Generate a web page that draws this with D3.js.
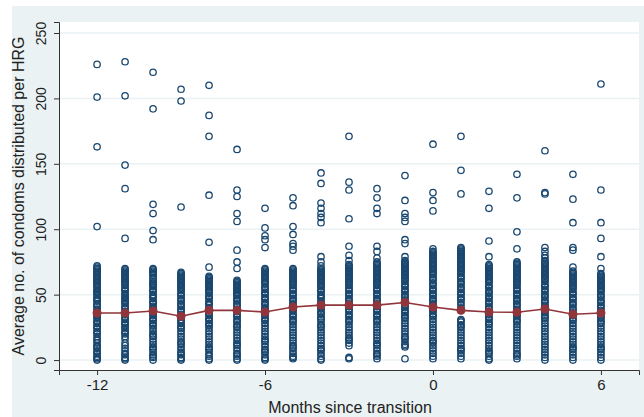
<!DOCTYPE html>
<html>
<head>
<meta charset="utf-8">
<script src="https://cdn.jsdelivr.net/npm/d3@7"></script>
<style>
  body { margin: 0; background: #fff; }
  svg { display: block; font-family: "Liberation Sans", Arial, sans-serif; }
</style>
</head>
<body>
<div id="chart"></div>
<script>
// month values on the x axis
const months = [-12, -11, -10, -9, -8, -7, -6, -5, -4, -3, -2, -1, 0, 1, 2, 3, 4, 5, 6];

// mean per month (red connected line)
const means = [36, 36, 37.5, 33.5, 38, 38, 36.7, 40.5, 42, 42, 42, 44, 40.5, 38, 36.7, 36.5, 39, 35, 36];

// per-HRG observations, one array per month
const obsM12 = [226, 201, 163, 102, 72, 71, 70, 69, 68, 67, 66, 65, 64, 63, 62, 61, 60, 59, 58, 57, 56, 54, 53, 52, 51, 50, 48, 47, 46, 45, 43, 42, 41, 39, 38, 37, 35, 34, 33, 32, 30, 29, 28, 26, 25, 24, 22, 21, 20, 18, 16, 15, 13, 11, 10, 9, 7, 6, 5, 3, 2, 1, 0];
const obsM11 = [228, 202, 149, 131, 93, 70, 69, 68, 67, 66, 65, 64, 63, 62, 61, 60, 59, 58, 57, 55, 54, 53, 51, 50, 48, 47, 46, 45, 44, 43, 41, 40, 39, 37, 36, 35, 33, 32, 31, 29, 28, 27, 25, 24, 22, 21, 20, 18, 16, 13, 11, 9, 7, 5, 4, 2, 1, 0];
const obsM10 = [220, 192, 119, 112, 99, 92, 70, 69, 68, 67, 66, 65, 63, 62, 60, 59, 58, 57, 56, 54, 53, 52, 50, 49, 48, 47, 45, 44, 43, 41, 40, 39, 38, 36, 35, 34, 32, 31, 30, 28, 27, 26, 24, 22, 20, 19, 18, 16, 14, 12, 10, 9, 8, 6, 4, 3, 2, 0];
const obsM9 = [207, 198, 117, 67, 66, 65, 64, 63, 62, 61, 60, 59, 58, 57, 56, 55, 54, 53, 51, 50, 49, 47, 46, 45, 43, 42, 41, 39, 38, 37, 35, 34, 33, 31, 30, 29, 28, 26, 25, 24, 22, 20, 18, 16, 14, 13, 12, 10, 8, 6, 5, 4, 2, 1, 0];
const obsM8 = [210, 187, 171, 126, 90, 71, 64, 63, 62, 61, 60, 59, 58, 57, 56, 55, 54, 53, 52, 51, 49, 48, 47, 45, 44, 43, 42, 40, 39, 38, 36, 35, 34, 32, 31, 30, 28, 27, 26, 24, 22, 20, 18, 16, 14, 12, 10, 9, 8, 6, 4, 3, 1, 0];
const obsM7 = [161, 130, 125, 112, 106, 84, 75, 70, 61, 60, 59, 58, 57, 56, 55, 54, 53, 52, 51, 50, 49, 47, 46, 45, 43, 42, 41, 39, 38, 37, 35, 34, 33, 31, 30, 29, 27, 26, 25, 23, 21, 19, 17, 15, 13, 12, 11, 9, 7, 5, 4, 3, 1, 0];
const obsM6 = [116, 101, 95, 92, 86, 70, 69, 68, 67, 66, 65, 64, 63, 62, 61, 60, 59, 58, 56, 55, 54, 52, 51, 50, 48, 47, 46, 44, 43, 42, 40, 39, 38, 36, 35, 34, 32, 31, 30, 28, 26, 24, 22, 20, 18, 16, 15, 14, 12, 10, 8, 7, 6, 4, 2, 1, 0];
const obsM5 = [124, 118, 102, 96, 89, 87, 84, 70, 69, 68, 67, 66, 65, 64, 63, 62, 61, 60, 59, 58, 57, 55, 54, 53, 51, 50, 49, 47, 46, 45, 43, 42, 41, 39, 38, 37, 35, 34, 33, 31, 30, 29, 27, 25, 23, 21, 19, 17, 15, 13, 11, 10, 9, 7, 5, 3, 2, 1];
const obsM4 = [143, 135, 120, 116, 112, 109, 105, 79, 75, 72, 70, 69, 68, 67, 66, 65, 64, 63, 62, 61, 60, 59, 58, 57, 56, 54, 53, 52, 50, 49, 48, 47, 45, 44, 43, 41, 40, 39, 37, 36, 35, 33, 32, 31, 29, 27, 26, 25, 23, 21, 19, 17, 15, 13, 11, 9, 8, 7, 5, 3, 1, 0];
const obsM3 = [171, 136, 130, 108, 87, 80, 76, 73, 72, 71, 70, 69, 68, 67, 66, 65, 64, 63, 62, 61, 60, 59, 58, 57, 55, 54, 53, 51, 50, 49, 47, 46, 45, 43, 42, 41, 39, 38, 37, 35, 34, 33, 31, 30, 29, 27, 25, 23, 21, 19, 17, 16, 15, 13, 11, 2, 1];
const obsM2 = [131, 124, 116, 112, 87, 83, 78, 75, 74, 73, 72, 71, 70, 69, 68, 67, 66, 65, 64, 63, 62, 61, 60, 59, 58, 57, 55, 54, 53, 51, 50, 49, 47, 46, 45, 43, 42, 41, 39, 38, 37, 35, 34, 33, 31, 30, 29, 27, 25, 23, 21, 19, 17, 15, 13, 12, 11, 9, 7, 5, 4, 3, 1];
const obsM1 = [141, 122, 112, 109, 106, 92, 89, 79, 76, 75, 74, 73, 72, 71, 70, 69, 68, 67, 66, 65, 64, 63, 62, 61, 60, 58, 57, 56, 54, 53, 52, 50, 49, 48, 46, 45, 44, 42, 41, 40, 38, 37, 36, 34, 33, 32, 30, 28, 26, 24, 22, 20, 18, 17, 16, 14, 12, 11, 10, 1];
const obs0 = [165, 128, 122, 114, 85, 83, 82, 81, 80, 79, 78, 77, 76, 75, 74, 73, 72, 71, 70, 69, 68, 67, 66, 65, 63, 62, 61, 59, 58, 57, 55, 54, 53, 51, 50, 49, 47, 46, 45, 43, 42, 41, 39, 38, 37, 35, 34, 33, 31, 29, 27, 25, 23, 21, 19, 17, 15, 14, 13, 11, 9, 7, 5, 3, 1];
const obsP1 = [171, 145, 127, 86, 85, 84, 83, 82, 81, 80, 79, 78, 77, 76, 75, 74, 73, 72, 71, 70, 69, 68, 67, 66, 64, 63, 62, 60, 59, 58, 56, 55, 54, 52, 51, 50, 48, 47, 46, 44, 42, 40, 38, 31, 30, 29, 27, 26, 25, 23, 21, 19, 17, 15, 13, 11, 9, 8, 7, 5, 3, 1];
const obsP2 = [129, 116, 91, 79, 73, 72, 71, 70, 69, 68, 67, 66, 65, 64, 63, 62, 61, 60, 59, 57, 56, 55, 53, 52, 51, 49, 48, 47, 45, 44, 43, 41, 40, 39, 37, 36, 35, 33, 32, 31, 29, 28, 27, 25, 23, 21, 19, 17, 15, 13, 11, 9, 7, 6, 5, 3, 1, 0];
const obsP3 = [142, 124, 98, 85, 75, 74, 73, 72, 71, 70, 69, 68, 67, 66, 65, 64, 63, 62, 61, 60, 59, 58, 57, 55, 54, 53, 51, 50, 49, 47, 46, 45, 43, 42, 41, 39, 38, 37, 35, 34, 33, 31, 30, 29, 27, 25, 23, 21, 19, 17, 15, 13, 11, 9, 7, 5, 4, 3, 1];
const obsP4 = [160, 128, 127, 86, 83, 80, 78, 76, 75, 74, 73, 72, 71, 70, 69, 68, 67, 66, 65, 64, 63, 62, 61, 60, 58, 57, 56, 54, 53, 52, 50, 49, 48, 46, 45, 44, 42, 41, 40, 38, 37, 36, 34, 33, 32, 30, 28, 26, 24, 22, 20, 18, 16, 14, 12, 10, 8, 6, 4, 2, 0];
const obsP5 = [142, 123, 105, 86, 84, 71, 68, 67, 66, 65, 64, 63, 62, 61, 60, 59, 58, 57, 56, 55, 54, 52, 51, 50, 48, 47, 46, 44, 43, 42, 40, 39, 38, 36, 35, 34, 32, 31, 30, 28, 26, 24, 22, 20, 18, 16, 14, 12, 10, 9, 8, 6, 4, 2, 0];
const obsP6 = [211, 130, 105, 93, 79, 70, 66, 65, 64, 63, 62, 61, 60, 59, 58, 57, 56, 55, 54, 53, 52, 50, 49, 48, 46, 45, 44, 42, 41, 40, 38, 37, 36, 34, 33, 32, 30, 29, 28, 26, 24, 22, 20, 18, 16, 14, 12, 10, 9, 8, 6, 4, 2, 0];

const obsByMonth = [obsM12, obsM11, obsM10, obsM9, obsM8, obsM7, obsM6, obsM5, obsM4, obsM3,
  obsM2, obsM1, obs0, obsP1, obsP2, obsP3, obsP4, obsP5, obsP6];

const xTicks = [-12, -6, 0, 6];
const yTicks = [0, 50, 100, 150, 200, 250];

const width = 644, height = 417;
const plot = { left: 59, right: 639, top: 22, bottom: 370 };

const svg = d3.select('#chart').append('svg')
  .attr('width', width)
  .attr('height', height);

// graph region (Stata-style light blue-gray) with a thin white border top/left
svg.append('rect')
  .attr('x', 12).attr('y', 6)
  .attr('width', width - 12).attr('height', height - 6)
  .attr('fill', '#eaf2f3');

svg.append('rect')
  .attr('x', plot.left).attr('y', plot.top)
  .attr('width', plot.right - plot.left).attr('height', plot.bottom - plot.top)
  .attr('fill', '#fff');

const x = d3.scaleLinear().domain([-13.36, 7.36]).range([plot.left, plot.right]);
const y = d3.scaleLinear().domain([-7.6, 258.4]).range([plot.bottom, plot.top]);

// gridlines
svg.append('g')
  .selectAll('line')
  .data(yTicks)
  .enter()
  .append('line')
  .attr('x1', plot.left).attr('x2', plot.right)
  .attr('y1', d => y(d)).attr('y2', d => y(d))
  .attr('stroke', '#eaf2f3')
  .attr('stroke-width', 1.5);

// scatter points
const points = [];
obsByMonth.forEach((arr, i) => arr.forEach(v => points.push({ m: months[i], v: v })));

svg.append('g')
  .selectAll('circle')
  .data(points)
  .enter()
  .append('circle')
  .attr('cx', d => x(d.m))
  .attr('cy', d => y(d.v))
  .attr('r', 3.2)
  .attr('fill', 'none')
  .attr('stroke', '#1a476f')
  .attr('stroke-width', 1.3);

// mean line
const meanData = months.map((m, i) => ({ m: m, v: means[i] }));
svg.append('path')
  .datum(meanData)
  .attr('fill', 'none')
  .attr('stroke', '#90353b')
  .attr('stroke-width', 1.6)
  .attr('d', d3.line().x(d => x(d.m)).y(d => y(d.v)));

svg.append('g')
  .selectAll('circle')
  .data(meanData)
  .enter()
  .append('circle')
  .attr('cx', d => x(d.m))
  .attr('cy', d => y(d.v))
  .attr('r', 4.5)
  .attr('fill', '#90353b');

// axes
const xAxis = svg.append('g')
  .attr('transform', `translate(0,${plot.bottom})`)
  .call(d3.axisBottom(x).tickValues(xTicks).tickSize(5).tickPadding(4).tickFormat(d3.format('d')));
xAxis.select('.domain').attr('stroke', '#333');
xAxis.selectAll('.tick line').attr('stroke', '#333');
xAxis.selectAll('.tick text')
  .attr('font-size', 15)
  .attr('fill', '#222')
  .text(d => d < 0 ? '-' + Math.abs(d) : d);

const yAxis = svg.append('g')
  .attr('transform', `translate(${plot.left},0)`)
  .call(d3.axisLeft(y).tickValues(yTicks).tickSize(5).tickFormat(d3.format('d')));
yAxis.select('.domain').attr('stroke', '#333');
yAxis.selectAll('.tick line').attr('stroke', '#333');
yAxis.selectAll('.tick text')
  .attr('font-size', 14)
  .attr('fill', '#222')
  .attr('text-anchor', 'middle')
  .attr('dy', null)
  .attr('x', 0)
  .attr('transform', 'translate(-13,0) rotate(-90)')
  .attr('dominant-baseline', 'auto');

// axis titles
svg.append('text')
  .attr('x', 350).attr('y', 413)
  .attr('text-anchor', 'middle')
  .attr('font-size', 16)
  .attr('fill', '#222')
  .text('Months since transition');

svg.append('text')
  .attr('transform', `translate(24,${(plot.top + plot.bottom) / 2}) rotate(-90)`)
  .attr('text-anchor', 'middle')
  .attr('font-size', 16)
  .attr('fill', '#222')
  .text('Average no. of condoms distributed per HRG');
</script>
</body>
</html>
